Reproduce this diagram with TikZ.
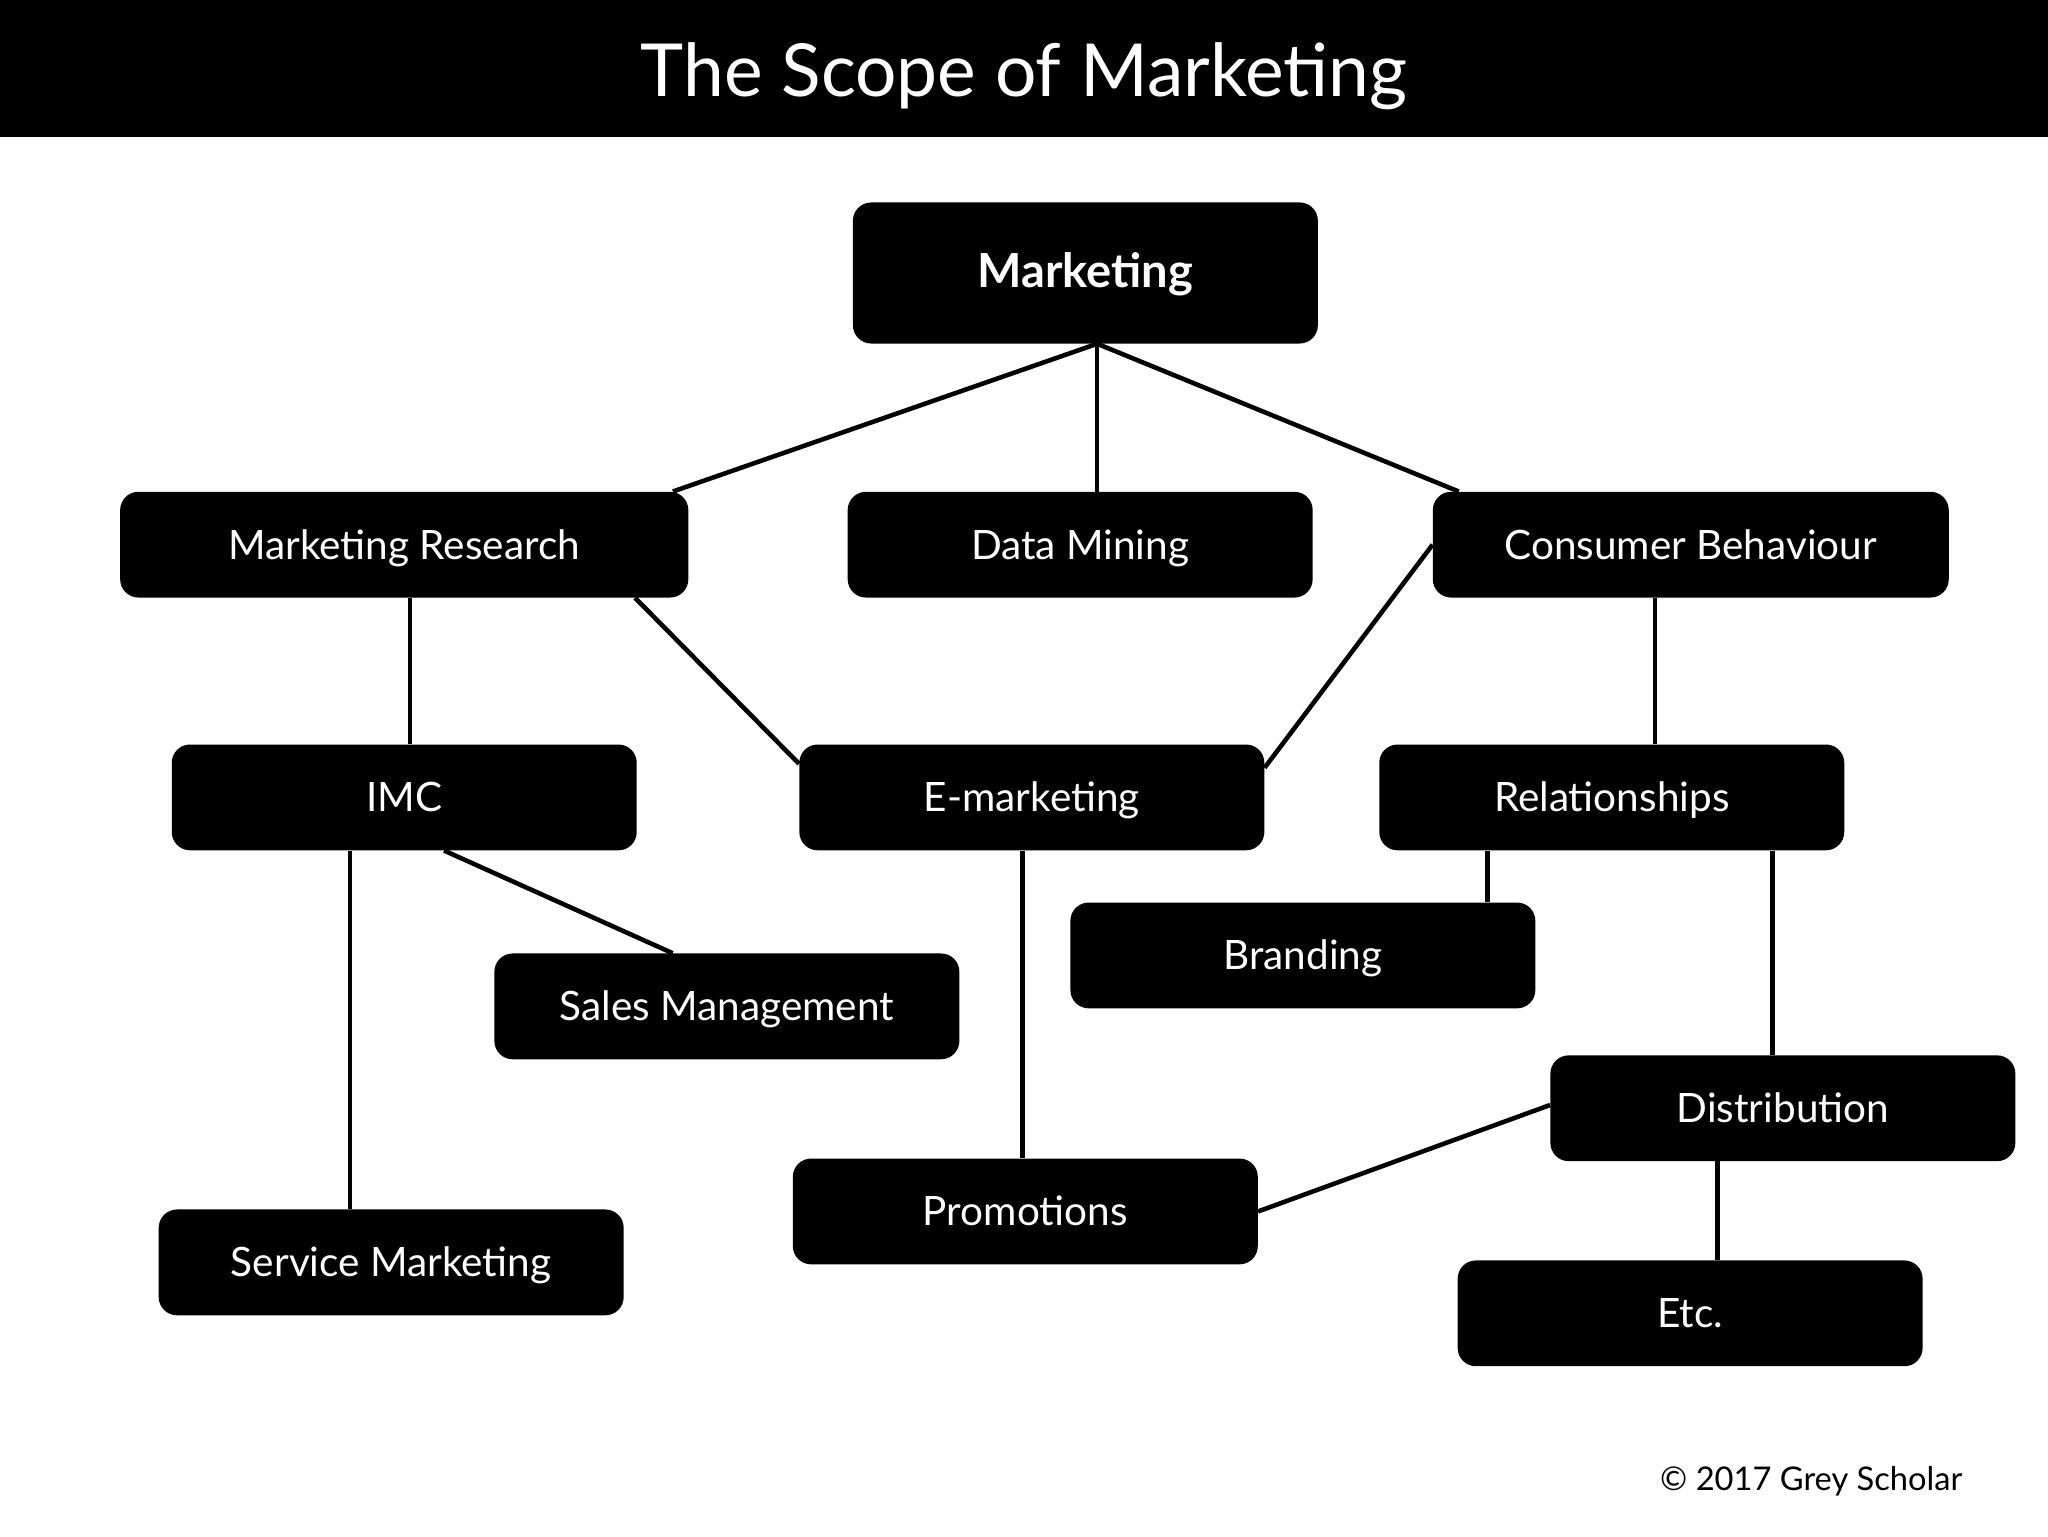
\documentclass[tikz,border=0pt]{standalone}
\usepackage{fontspec}
\setmainfont{Lato}
\begin{document}
\begin{tikzpicture}[x=1pt,y=-1pt,
 box/.style={fill=black,text=white,rounded corners=14pt,minimum width=356pt,minimum height=81pt,inner sep=0pt,text height=26pt,text depth=4pt,font=\fontsize{31}{36}\selectfont},
 link/.style={line width=3.5pt}]
\useasboundingbox (0,0) rectangle (1568,1176);
\fill[black] (0,0) rectangle (1568,105);
\node[text=white,font=\fontsize{56}{64}\selectfont] (title) at (784,58) {The Scope of Marketing};
\node[box,minimum height=108pt,font=\fontsize{36}{40}\selectfont\bfseries] (mkt) at (831,209) {Marketing};
\node[box,minimum width=435pt] (mr) at (309.5,417) {Marketing Research};
\node[box] (dm) at (827,417) {Data Mining};
\node[box,minimum width=395pt] (cb) at (1294.5,417) {Consumer Behaviour};
\node[box] (imc) at (309.5,610.5) {IMC};
\node[box] (em) at (790,610.5) {E-marketing};
\node[box] (rel) at (1234,610.5) {Relationships};
\node[box] (sm) at (556.5,770.5) {Sales Management};
\node[box] (br) at (997.5,731.5) {Branding};
\node[box] (di) at (1365,848.5) {Distribution};
\node[box] (pr) at (785,927.5) {Promotions};
\node[box] (sv) at (299.5,966.5) {Service Marketing};
\node[box] (etc) at (1294,1005.5) {Etc.};
\node[anchor=east,font=\fontsize{25}{30}\selectfont] (copy) at (1506,1134) {© 2017 Grey Scholar};
\draw[link] ([xshift=9]mkt.south) -- ([xshift=-12]mr.north east);
\draw[link] ([xshift=9]mkt.south) -- ([xshift=13]dm.north);
\draw[link] ([xshift=9]mkt.south) -- ([xshift=20]cb.north west);
\draw[link] ([xshift=4.5]mr.south) -- ([xshift=4.5]imc.north);
\draw[link] ([xshift=-41]mr.south east) -- ([yshift=-15]em.north west);
\draw[link] (cb.west) -- ([yshift=-18]em.north east);
\draw[link] ([xshift=-27.5]cb.south) -- ([xshift=33]rel.north);
\draw[link] ([xshift=-41.5]imc.south) -- ([xshift=-31.5]sv.north);
\draw[link] ([xshift=30.5]imc.south) -- ([xshift=-41.5]sm.north);
\draw[link] ([xshift=-7]em.south) -- ([xshift=-2]pr.north);
\draw[link] ([xshift=-95]rel.south) -- ([xshift=141.5]br.north);
\draw[link] ([xshift=123]rel.south) -- ([xshift=-8]di.north);
\draw[link] ([yshift=2.5]di.west) -- (pr.east);
\draw[link] ([xshift=-50]di.south) -- ([xshift=21]etc.north);
\end{tikzpicture}
\end{document}
